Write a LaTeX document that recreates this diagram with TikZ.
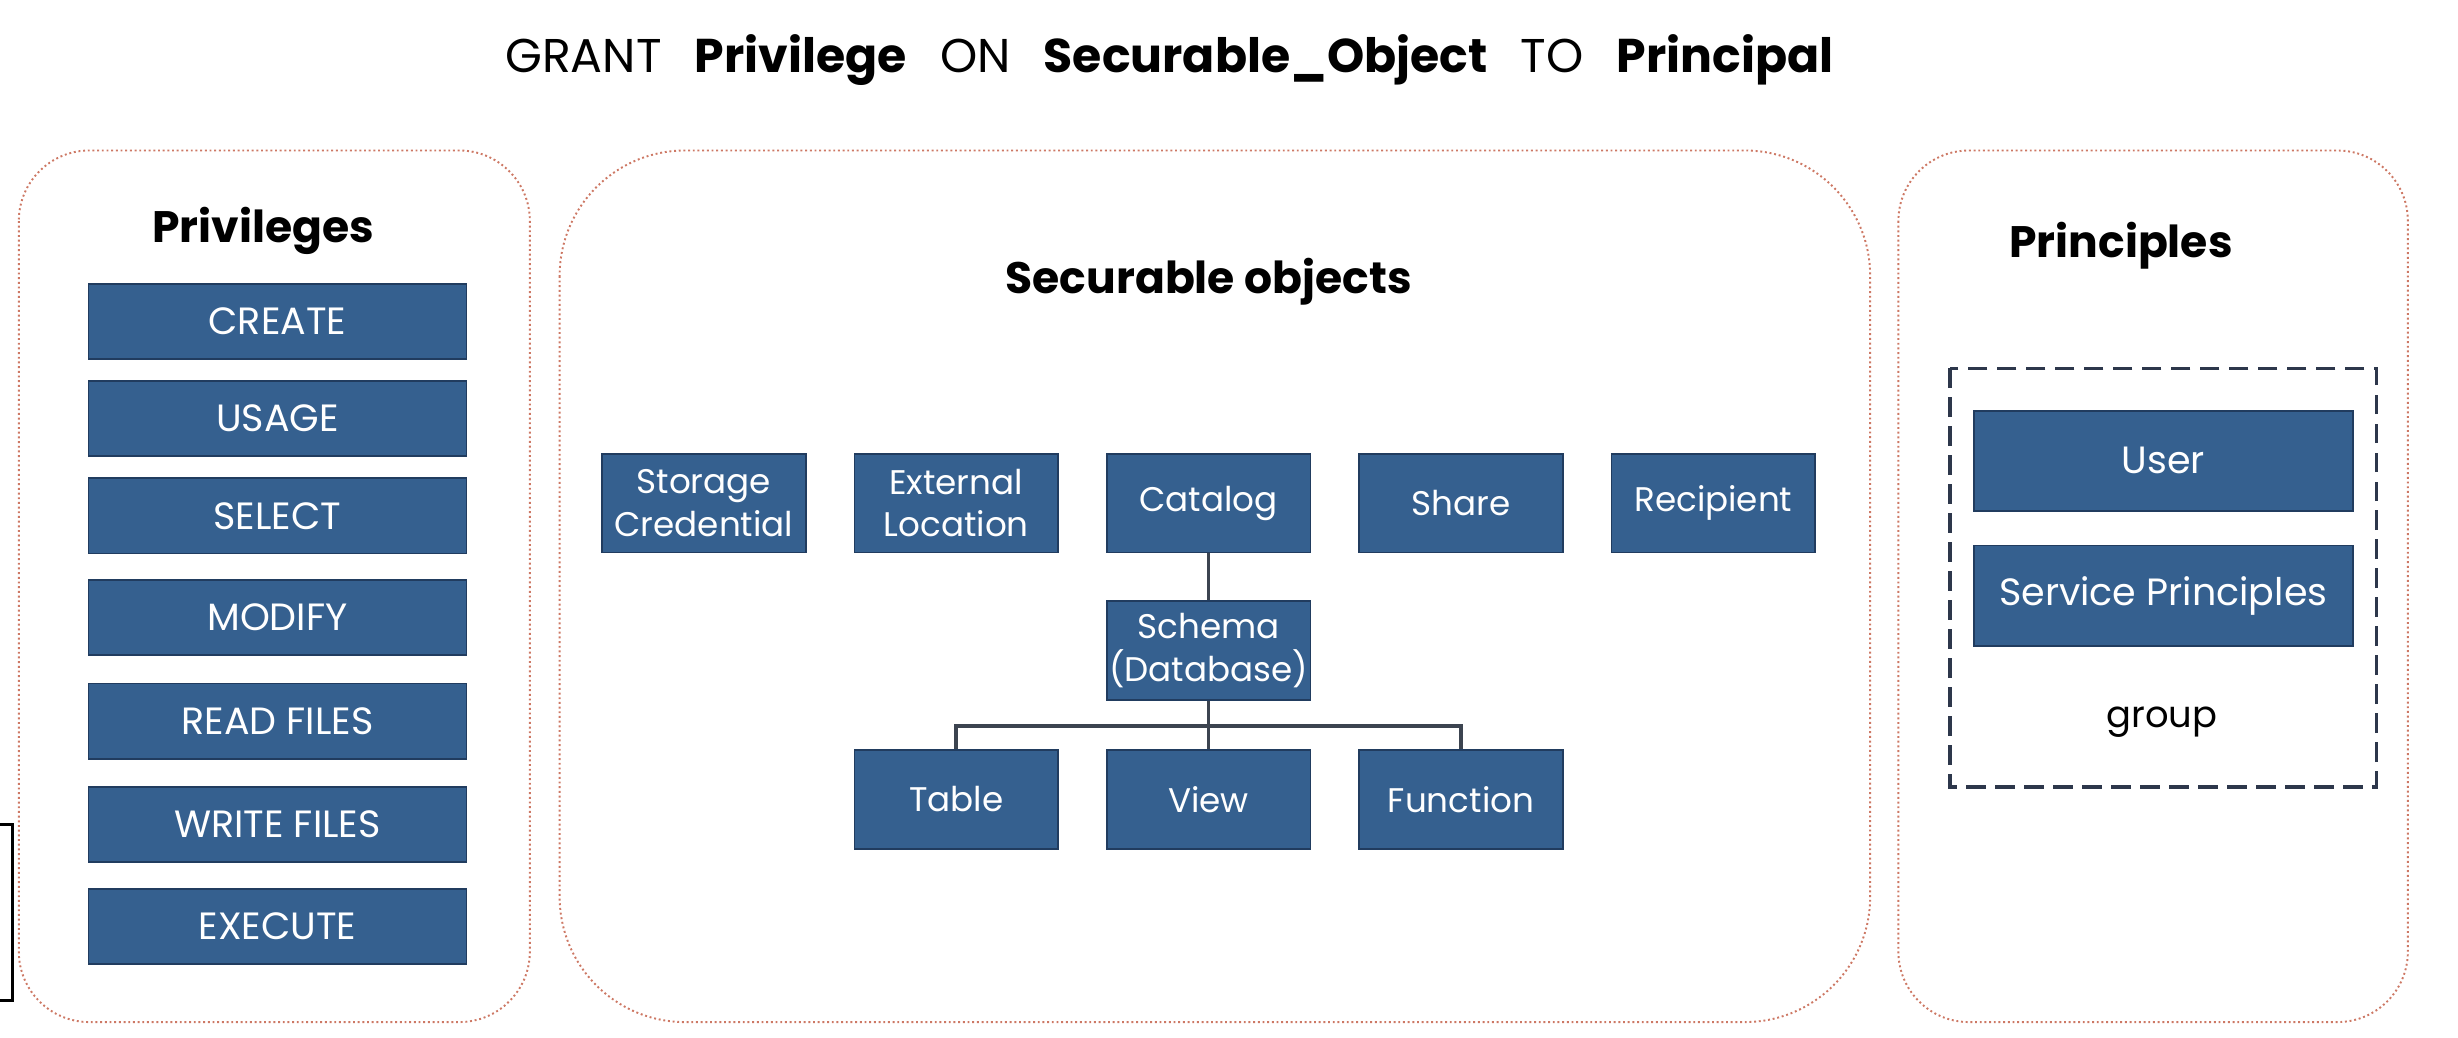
\documentclass[tikz,border=0pt]{standalone}
\usepackage{fontspec}
\setmainfont{Poppins}

\definecolor{boxblue}{RGB}{53,96,143}
\definecolor{boxedge}{RGB}{33,60,95}
\definecolor{dotred}{RGB}{205,120,100}
\definecolor{linegray}{RGB}{60,68,80}
\definecolor{dashnavy}{RGB}{45,55,75}

\tikzset{
  panel/.style={draw=dotred, densely dotted, line width=0.7pt},
  privbox/.style={fill=boxblue, draw=boxedge, line width=0.6pt, text=white,
    minimum width=4.82cm, minimum height=0.96cm, inner sep=0pt,
    font=\fontsize{13.8}{15.4}\selectfont},
  objbox/.style={privbox, minimum width=2.6cm, minimum height=1.26cm, align=center,
    font=\fontsize{12.4}{15.4}\selectfont},
  userbox/.style={privbox, minimum width=4.84cm, minimum height=1.28cm},
  heading/.style={font=\fontsize{16}{19}\selectfont\bfseries},
  link/.style={draw=linegray, line width=1.3pt}
}

\begin{document}
\begin{tikzpicture}[x=0.02cm, y=-0.02cm]

  % Fix the page size
  \useasboundingbox (0,0) rectangle (1568,662);

  % The statement on top
  \node (title) at (746,38) {\fontsize{17.2}{20}\selectfont GRANT\hspace{0.7em}\textbf{Privilege}\hspace{0.7em}ON\hspace{0.7em}\textbf{Securable\_Object}\hspace{0.7em}TO\hspace{0.7em}\textbf{Principal}};

  % Draw the three dotted panels
  \draw[panel, rounded corners=0.9cm] (12,96) rectangle (338,652);
  \draw[panel, rounded corners=1.6cm] (357,96) rectangle (1193,652);
  \draw[panel, rounded corners=0.9cm] (1211,96) rectangle (1536,652);

  % Left panel: the privileges
  \node[heading] (privileges) at (168,147) {Privileges};
  \node[privbox] (create) at (177,205) {CREATE};
  \node[privbox] (usage) at (177,267) {USAGE};
  \node[privbox] (select) at (177,329) {SELECT};
  \node[privbox] (modify) at (177,394) {MODIFY};
  \node[privbox] (readfiles) at (177,460) {READ FILES};
  \node[privbox] (writefiles) at (177,526) {WRITE FILES};
  \node[privbox] (execute) at (177,591) {EXECUTE};

  % Middle panel: the securable objects
  \node[heading] (securable) at (771,180) {Securable objects};
  \node[objbox] (storage) at (449,321) {Storage\\Credential};
  \node[objbox] (external) at (610,321) {External\\Location};
  \node[objbox] (catalog) at (771,321) {Catalog};
  \node[objbox] (share) at (932,321) {Share};
  \node[objbox] (recipient) at (1093,321) {Recipient};
  \node[objbox] (schema) at (771,415) {Schema\\(Database)};
  \node[objbox] (table) at (610,510) {Table};
  \node[objbox] (view) at (771,510) {View};
  \node[objbox] (func) at (932,510) {Function};

  % The tree below the catalog
  \coordinate (bar) at (771,463);
  \draw[link] (catalog) -- (schema);
  \draw[link] (schema) -- (bar);
  \draw[link] (table.north) |- (bar) -| (func.north);
  \draw[link] (bar) -- (view.north);

  % Right panel: the principles
  \node[heading] (principles) at (1353,157) {Principles};
  \draw[draw=dashnavy, line width=1.2pt, dash pattern=on 0.25cm off 0.12cm] (1244,235) rectangle (1516,502);
  \node[userbox] (user) at (1380,294) {User};
  \node[userbox] (service) at (1380,380) {Service Principles};
  \node[font=\fontsize{13.4}{15}\selectfont] (group) at (1379,461) {group};

  % The cut frame at the left edge
  \draw[line width=1pt] (-5,526) rectangle (8,638);

\end{tikzpicture}
\end{document}
